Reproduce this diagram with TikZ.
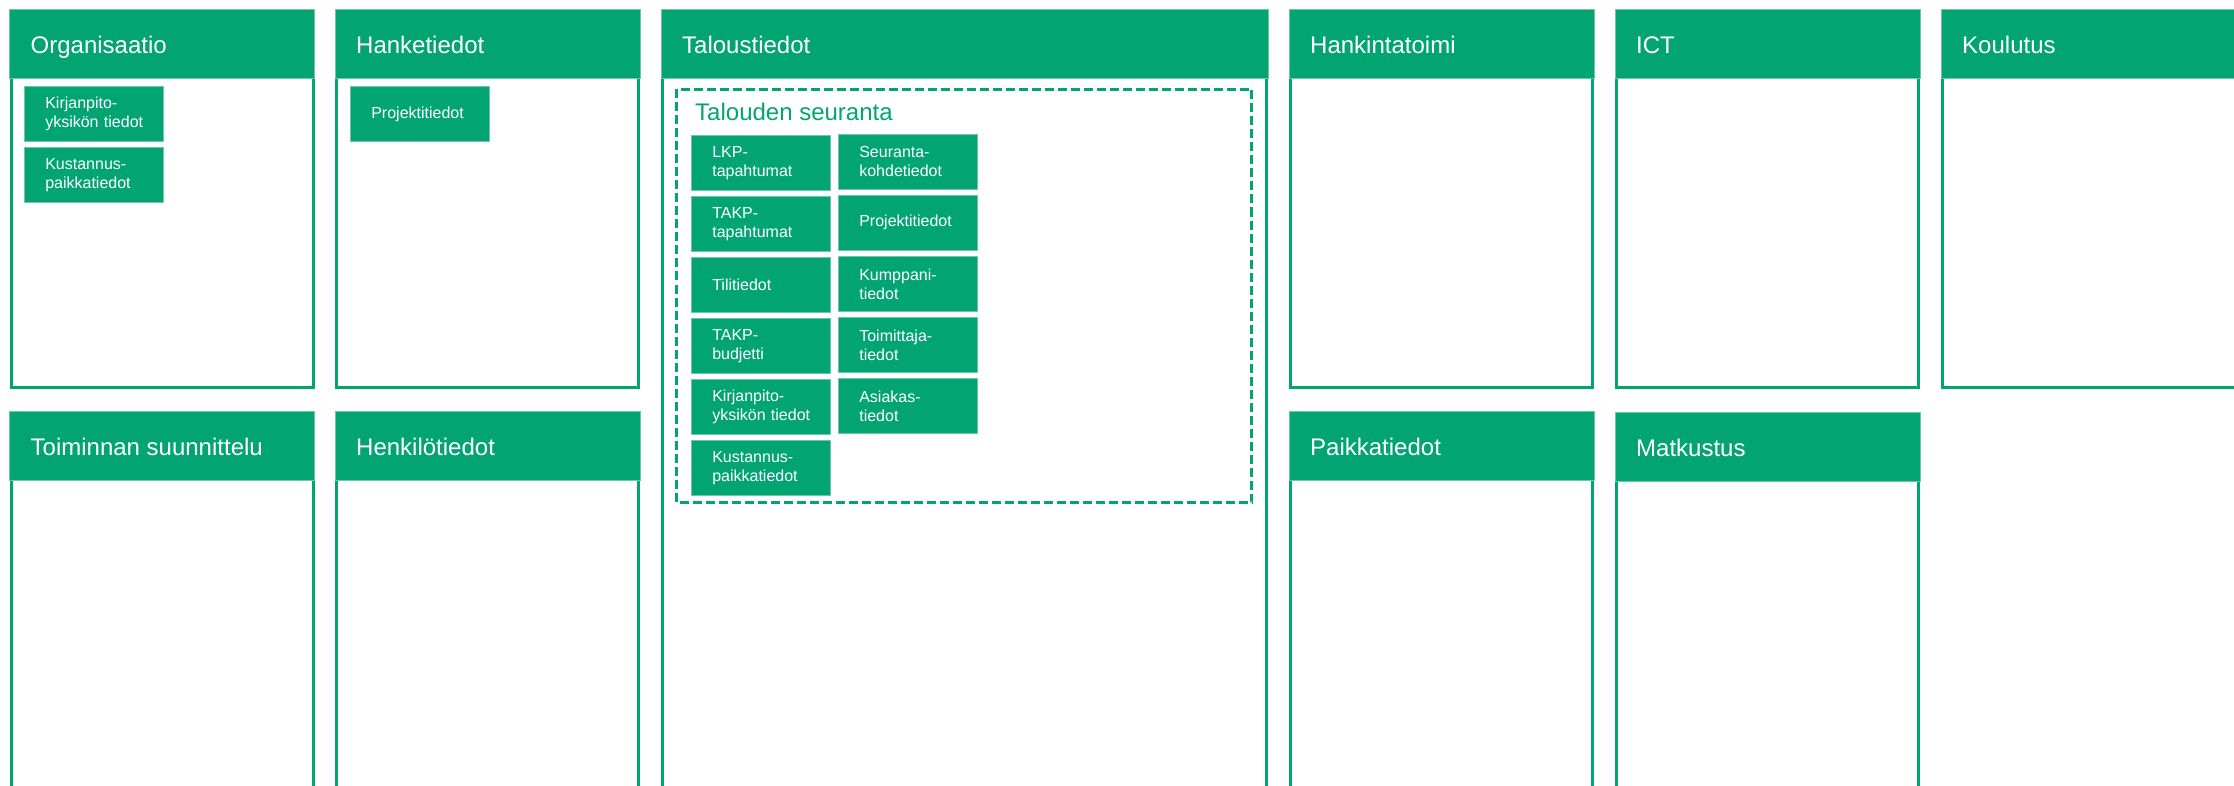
\documentclass[tikz,border=0pt]{standalone}
\usepackage{fontspec}
\setmainfont{Liberation Sans}
\definecolor{brand}{RGB}{2,165,114}
\definecolor{brandlight}{RGB}{110,200,168}
\tikzset{
  panelline/.style={draw=brand, line width=3pt},
  headbox/.style={fill=brand, draw=brandlight, line width=0.8pt},
  headtext/.style={anchor=base west, text=white, font=\fontsize{24}{28}\selectfont, inner sep=0pt},
  item/.style={anchor=north west, fill=brand, draw=brandlight, line width=0.6pt, text=white,
    font=\fontsize{16}{19}\selectfont, text width=97pt, inner xsep=21pt, inner ysep=0pt,
    minimum height=55pt, align=left},
  dashbox/.style={draw=brand, line width=2.5pt, dash pattern=on 9pt off 4pt},
  subtitle/.style={anchor=base west, text=brand, font=\fontsize{24}{28}\selectfont, inner sep=0pt}
}
% #1 name, #2 x1, #3 y1, #4 x2, #5 y2, #6 title
\newcommand\mypanel[6]{%
  \draw[panelline] (#2+1.5,#3+1.5) rectangle (#4-1.5,#5-1.5);
  \draw[headbox] (#2,#3) rectangle (#4,#3+69);
  \node[headtext] (#1) at (#2+21,#3+44.5) {#6};
}
\begin{document}
\begin{tikzpicture}[x=1pt,y=-1pt]
\clip (0,0) rectangle (2234,786);
\fill[white] (0,0) rectangle (2234,786);

% top row
\mypanel{org}{9.5}{9}{314.5}{389}{Organisaatio}
\mypanel{hanke}{335}{9}{640}{389}{Hanketiedot}
\mypanel{talous}{661}{9}{1268}{800}{Taloustiedot}
\mypanel{hankinta}{1289}{9}{1594}{389}{Hankintatoimi}
\mypanel{ict}{1615}{9}{1920}{389}{ICT}
\mypanel{koulutus}{1941}{9}{2250}{389}{Koulutus}
% bottom row
\mypanel{toiminta}{9.5}{411}{314.5}{800}{Toiminnan suunnittelu}
\mypanel{henkilo}{335}{411}{640}{800}{Henkilötiedot}
\mypanel{paikka}{1289}{411}{1594}{800}{Paikkatiedot}
\mypanel{matkustus}{1615}{412}{1920}{800}{Matkustus}

% Organisaatio items
\node[item] (o1) at (24,86.5) {Kirjanpito-\\yksikön~tiedot};
\node[item] (o2) at (24,147) {Kustannus-\\paikkatiedot};

% Hanketiedot item
\node[item] (h1) at (350,86.5) {Projektitiedot};

% Talouden seuranta
\draw[dashbox] (676.5,89.5) rectangle (1251.5,502.5);
\node[subtitle] (ts) at (695,120.7) {Talouden seuranta};

\node[item] (a1) at (691,135) {LKP-\\tapahtumat};
\node[item] (a2) at (691,196) {TAKP-\\tapahtumat};
\node[item] (a3) at (691,257) {Tilitiedot};
\node[item] (a4) at (691,318) {TAKP-\\budjetti};
\node[item] (a5) at (691,379) {Kirjanpito-\\yksikön~tiedot};
\node[item] (a6) at (691,440) {Kustannus-\\paikkatiedot};

\node[item] (b1) at (838,134) {Seuranta-\\kohdetiedot};
\node[item] (b2) at (838,195) {Projektitiedot};
\node[item] (b3) at (838,256) {Kumppani-\\tiedot};
\node[item] (b4) at (838,317) {Toimittaja-\\tiedot};
\node[item] (b5) at (838,378) {Asiakas-\\tiedot};
\end{tikzpicture}
\end{document}
